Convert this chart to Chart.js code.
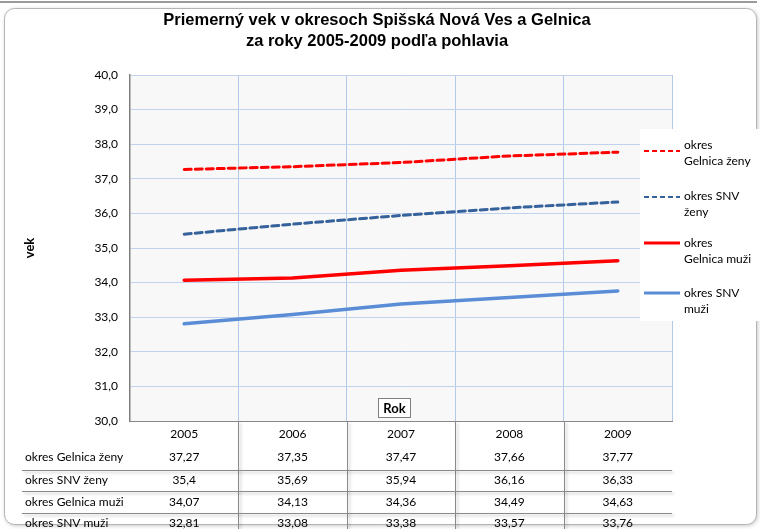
<!DOCTYPE html>
<html>
<head>
<meta charset="utf-8">
<script src="https://cdn.jsdelivr.net/npm/chart.js@4.4.1/dist/chart.umd.min.js"></script>
<style>
  html, body { margin: 0; padding: 0; background: #ffffff; }
  #wrap { width: 760px; height: 529px; position: relative; }
</style>
</head>
<body>
<div id="wrap"><canvas id="c" width="760" height="529"></canvas></div>
<script>
const titleLines = ["Priemerný vek v okresoch Spišská Nová Ves a Gelnica", "za roky 2005-2009 podľa pohlavia"];
const years = ["2005", "2006", "2007", "2008", "2009"];
const seriesNames = ["okres Gelnica ženy", "okres SNV ženy", "okres Gelnica muži", "okres SNV muži"];
const legendLines = [["okres", "Gelnica ženy"], ["okres SNV", "ženy"], ["okres", "Gelnica muži"], ["okres SNV", "muži"]];
const gelnicaZeny = [37.27, 37.35, 37.47, 37.66, 37.77];
const snvZeny = [35.4, 35.69, 35.94, 36.16, 36.33];
const gelnicaMuzi = [34.07, 34.13, 34.36, 34.49, 34.63];
const snvMuzi = [32.81, 33.08, 33.38, 33.57, 33.76];
const yMin = 30, yMax = 40, yStep = 1;
const xTitle = "Rok", yTitle = "vek";

const FONT = "Lato, 'Open Sans', sans-serif";
const fmt = v => String(v).replace('.', ',');

const styles = [
  { color: '#ff0000', width: 3, dash: [7, 4] },
  { color: '#36629c', width: 3, dash: [7, 4] },
  { color: '#ff0000', width: 3.5, dash: [] },
  { color: '#5a8dd6', width: 3.5, dash: [] }
];
const seriesData = [gelnicaZeny, snvZeny, gelnicaMuzi, snvMuzi];

const decor = {
  id: 'decor',
  beforeDraw(chart) {
    const ctx = chart.ctx;
    const a = chart.chartArea;
    ctx.save();
    ctx.strokeStyle = '#9a9a9a';
    ctx.lineWidth = 2;
    ctx.beginPath(); ctx.moveTo(0, 2); ctx.lineTo(757, 2); ctx.stroke();
    ctx.shadowColor = 'rgba(0,0,0,0.25)';
    ctx.shadowBlur = 4; ctx.shadowOffsetX = 1; ctx.shadowOffsetY = 1;
    ctx.fillStyle = '#ffffff';
    ctx.beginPath();
    ctx.roundRect(4.5, 8.5, 752, 516, 10);
    ctx.fill();
    ctx.shadowColor = 'transparent';
    ctx.strokeStyle = '#b4b4b4';
    ctx.lineWidth = 1;
    ctx.stroke();
    ctx.fillStyle = '#f8f8f8';
    ctx.fillRect(a.left, a.top, a.right - a.left, a.bottom - a.top);
    ctx.restore();
  },
  afterDraw(chart) {
    const ctx = chart.ctx;
    const a = chart.chartArea;
    const xs = chart.scales.x;
    ctx.save();
    ctx.fillStyle = '#000';
    ctx.font = "bold 16.5px 'Liberation Sans', Arial, sans-serif";
    ctx.textAlign = 'center'; ctx.textBaseline = 'middle';
    ctx.fillText(titleLines[0], 377, 20);
    ctx.fillText(titleLines[1], 377, 41);
    ctx.save();
    ctx.translate(30, 248);
    ctx.rotate(-Math.PI / 2);
    ctx.font = "bold 13px " + FONT;
    ctx.fillText(yTitle, 0, 0);
    ctx.restore();
    ctx.fillStyle = '#fff';
    ctx.strokeStyle = '#808080';
    ctx.lineWidth = 1;
    ctx.fillRect(378.5, 398.5, 32, 19);
    ctx.strokeRect(378.5, 398.5, 32, 19);
    ctx.fillStyle = '#000';
    ctx.font = "bold 13px " + FONT;
    ctx.fillText(xTitle, 394.5, 408.5);

    ctx.fillStyle = '#fff';
    ctx.fillRect(640, 129, 120, 192);
    const legY = [[145, 161], [196, 212], [243, 259], [293, 309]];
    const sampleY = [151, 197, 243, 293];
    for (let i = 0; i < 4; i++) {
      const ds = chart.data.datasets[i];
      ctx.strokeStyle = ds.borderColor;
      ctx.lineWidth = i < 2 ? 2.2 : 3;
      ctx.setLineDash(i < 2 ? [5, 3] : []);
      ctx.beginPath(); ctx.moveTo(644, sampleY[i]); ctx.lineTo(680, sampleY[i]); ctx.stroke();
      ctx.setLineDash([]);
      ctx.fillStyle = '#000';
      ctx.font = "12px " + FONT;
      ctx.textAlign = 'left';
      ctx.fillText(legendLines[i][0], 684, legY[i][0]);
      ctx.fillText(legendLines[i][1], 684, legY[i][1]);
    }

    const bounds = [a.left];
    for (let i = 0; i < years.length; i++) {
      const c = xs.getPixelForValue(i);
      bounds.push(2 * c - bounds[bounds.length - 1]);
    }
    ctx.strokeStyle = '#8a8a8a';
    ctx.lineWidth = 1;
    ctx.shadowColor = 'rgba(0,0,0,0.25)';
    ctx.shadowBlur = 3; ctx.shadowOffsetX = 2; ctx.shadowOffsetY = 2;
    for (let i = 1; i < bounds.length - 1; i++) {
      const x = Math.round(bounds[i]) + 0.5;
      ctx.beginPath(); ctx.moveTo(x, a.bottom); ctx.lineTo(x, 529); ctx.stroke();
    }
    const rowLines = [470, 491, 513];
    rowLines.forEach(y => {
      ctx.beginPath(); ctx.moveTo(22, y + 0.5); ctx.lineTo(a.right, y + 0.5); ctx.stroke();
    });
    ctx.shadowColor = 'transparent';
    ctx.fillStyle = '#000';
    ctx.font = "12px " + FONT;
    ctx.textAlign = 'center';
    years.forEach((y, i) => ctx.fillText(y, xs.getPixelForValue(i), 434));
    const rowY = [457, 480, 502, 523];
    seriesData.forEach((arr, r) => {
      ctx.textAlign = 'left';
      ctx.fillText(seriesNames[r], 25, rowY[r]);
      ctx.textAlign = 'center';
      arr.forEach((v, i) => ctx.fillText(fmt(v), xs.getPixelForValue(i), rowY[r]));
    });
    ctx.restore();
  }
};

new Chart(document.getElementById('c'), {
  type: 'line',
  data: {
    labels: years,
    datasets: seriesData.map((d, i) => ({
      label: seriesNames[i],
      data: d,
      borderColor: styles[i].color,
      borderWidth: styles[i].width,
      borderDash: styles[i].dash,
      borderCapStyle: 'round',
      pointRadius: 0,
      tension: 0,
      fill: false
    }))
  },
  options: {
    responsive: false,
    animation: false,
    layout: { padding: { left: 0, right: 88, top: 75, bottom: 108 } },
    plugins: { legend: { display: false }, title: { display: false }, tooltip: { enabled: false } },
    scales: {
      x: {
        type: 'category',
        offset: true,
        grid: { offset: true, color: '#b4c8ea', drawTicks: false, lineWidth: 1 },
        border: { display: true, color: '#888888', width: 1 },
        ticks: { display: false }
      },
      y: {
        min: yMin, max: yMax,
        afterFit(scale) { scale.width = 130; },
        grid: { color: '#c0d2ee', drawTicks: false },
        border: { display: true, color: '#808080', width: 1.5 },
        ticks: {
          stepSize: yStep,
          padding: 12,
          color: '#000',
          font: { family: FONT, size: 12 },
          callback: v => Number(v).toFixed(1).replace('.', ',')
        }
      }
    }
  },
  plugins: [decor]
});
</script>
</body>
</html>
